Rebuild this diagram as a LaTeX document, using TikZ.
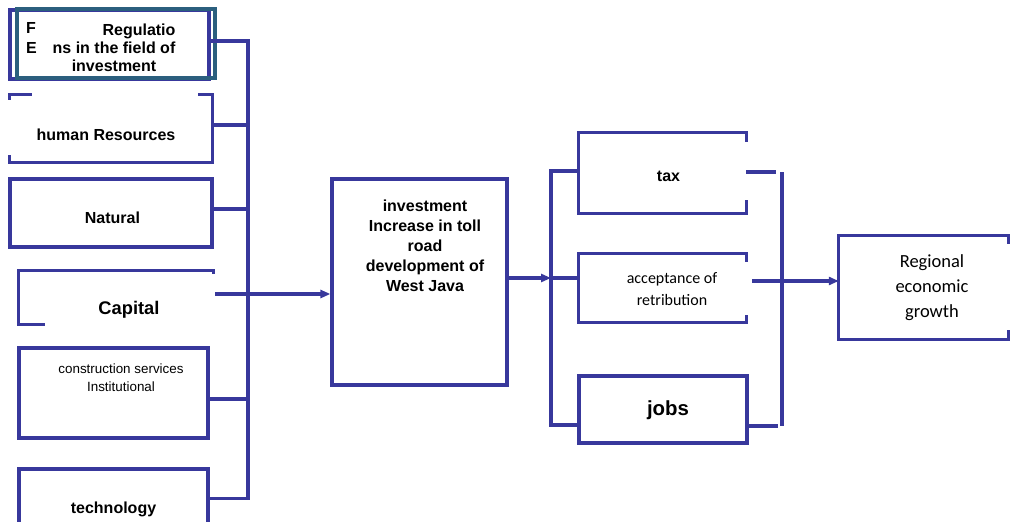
\documentclass[tikz,border=0pt]{standalone}
\usepackage{fontspec}
\setmainfont{Liberation Sans}
\newfontfamily\calibrifont{Carlito}
\usetikzlibrary{arrows.meta}
\definecolor{bl}{HTML}{38389C}
\definecolor{tl}{HTML}{2B5F7E}
\begin{document}
\begin{tikzpicture}[x=1pt,y=-1pt,
  ln/.style={draw=bl,line width=3.2pt},
  bx/.style={ln,rectangle,inner sep=0pt},
  hid/.style={rectangle,inner sep=0pt},
  arr/.style={-{Triangle[length=10pt,width=8pt]}},
  txt/.style={inner sep=0pt,align=center,anchor=base},
  bf/.style={txt,font=\fontsize{16}{19}\selectfont\bfseries},
]
\useasboundingbox (0,0) rectangle (1010,522);

% ---- left boxes ----
\node[bx,minimum width=199pt,minimum height=69pt] (reg) at (109.5,44.5) {};
\node[txt,anchor=base west,font=\fontsize{16}{19}\selectfont\bfseries] (tF) at (26,34) {F};
\node[txt,anchor=base west,font=\fontsize{16}{19}\selectfont\bfseries] (tE) at (26,53) {E};
\node[draw=tl,line width=3.2pt,rectangle,inner sep=0pt,minimum width=198pt,minimum height=69pt] (regt) at (116,43.5) {};
\node[txt,font=\fontsize{16}{18}\selectfont\bfseries] (regtx) at (114,71) {\hspace*{50pt}Regulatio\\ns in the field of\\investment};

\node[hid,minimum width=202pt,minimum height=67pt] (hr) at (111,128.5) {};
\draw[ln] ([xshift=22pt]hr.north west) -- (hr.north west) -- ([yshift=-5pt]hr.north west);
\draw[ln] ([xshift=-14pt]hr.north east) -- (hr.north east) -- (hr.south east) -- (hr.south west) -- ([yshift=7pt]hr.south west);
\node[bf] (hrtx) at (106,140) {human Resources};

\node[bx,minimum width=202pt,minimum height=68pt] (nat) at (111,213) {};
\node[bf] (nattx) at (112.5,223) {Natural};

\node[hid,minimum width=194pt,minimum height=53pt] (cap) at (116,297.5) {};
\draw[ln] ([yshift=-3pt]cap.north east) -- (cap.north east) -- (cap.north west) -- (cap.south west) -- ([xshift=26pt]cap.south west);
\node[txt,font=\fontsize{18.3}{22}\selectfont\bfseries] (captx) at (129,314) {Capital};

\node[bx,minimum width=189pt,minimum height=90pt] (con) at (113.5,393) {};
\node[txt,font=\fontsize{13.4}{18}\selectfont] (context) at (121,391) {construction services\\Institutional};

\node[bx,minimum width=189pt,minimum height=59pt] (tech) at (113.5,498.5) {};
\node[bf] (techtx) at (113.5,513) {technology};

% left bus
\coordinate (lbt) at (248,41);
\draw[ln] (tech.east) -| (lbt) -- ([yshift=3.5pt]reg.east);
\draw[ln] (hr.east) ++(0,-3.5) coordinate (h1) -- (h1 -| lbt);
\draw[ln] (nat.east) ++(0,-4) coordinate (n1) -- (n1 -| lbt);
\draw[ln] (con.east) ++(0,6) coordinate (c2) -- (c2 -| lbt);

% ---- centre box ----
\node[bx,minimum width=175pt,minimum height=206pt] (inv) at (419.5,282) {};
\node[txt,font=\fontsize{16}{20}\selectfont\bfseries] (invtx) at (425,291) {investment\\Increase in toll\\road\\development of\\West Java};
\draw[ln,arr] (cap.east) ++(2,-3.5) coordinate (c1) -- (c1 -| inv.west);

% ---- right boxes ----
\node[hid,minimum width=167pt,minimum height=80pt] (tax) at (662.5,173) {};
\draw[ln] ([yshift=-9pt]tax.north east) -- (tax.north east) -- (tax.north west) -- (tax.south west) -- (tax.south east) -- ([yshift=13pt]tax.south east);
\node[bf] (taxtx) at (668.5,181) {tax};

\node[hid,minimum width=167pt,minimum height=68pt] (acc) at (662.5,288) {};
\draw[ln] ([yshift=-8pt]acc.north east) -- (acc.north east) -- (acc.north west) -- (acc.south west) -- (acc.south east) -- ([yshift=7pt]acc.south east);
\node[txt,font=\fontsize{16}{22}\selectfont\calibrifont] (acctx) at (672,305) {acceptance of\\retribution};

\node[bx,minimum width=168pt,minimum height=67pt] (jobs) at (663,409.5) {};
\node[txt,font=\fontsize{20.4}{24}\selectfont\bfseries] (jobstx) at (668,415) {jobs};

% middle bus
\coordinate (rbt) at (551,171);
\coordinate (rbb) at (551,425);
\draw[ln] (tax.west) ++(0,-2) coordinate (t1) -- (rbt) -- (rbb) -- (rbb -| jobs.west);
\draw[ln,arr] (inv.east) ++(0,-4) coordinate (i1) -- (i1 -| rbt);
\draw[ln] (i1 -| rbt) -- (i1 -| acc.west);

% right bus
\coordinate (rrt) at (782,172);
\coordinate (rrb) at (782,426);
\draw[ln] (tax.east) ++(0,-1) coordinate (t2) -- ++(30,0);
\draw[ln] (jobs.east) ++(0,16.5) coordinate (j2) -- ++(29,0);
\draw[ln] (rrt) -- (rrb);

% ---- growth ----
\node[hid,minimum width=169pt,minimum height=103pt] (grow) at (923.5,287.5) {};
\draw[ln] ([yshift=-8pt]grow.north east) -- (grow.north east) -- (grow.north west) -- (grow.south west) -- (grow.south east) -- ([yshift=9pt]grow.south east);
\node[txt,font=\fontsize{18.5}{25}\selectfont\calibrifont] (growtx) at (932,317) {Regional\\economic\\growth};
\draw[ln,arr] (acc.east) ++(6,-7) coordinate (a2) -- (a2 -| grow.west);
\end{tikzpicture}
\end{document}
